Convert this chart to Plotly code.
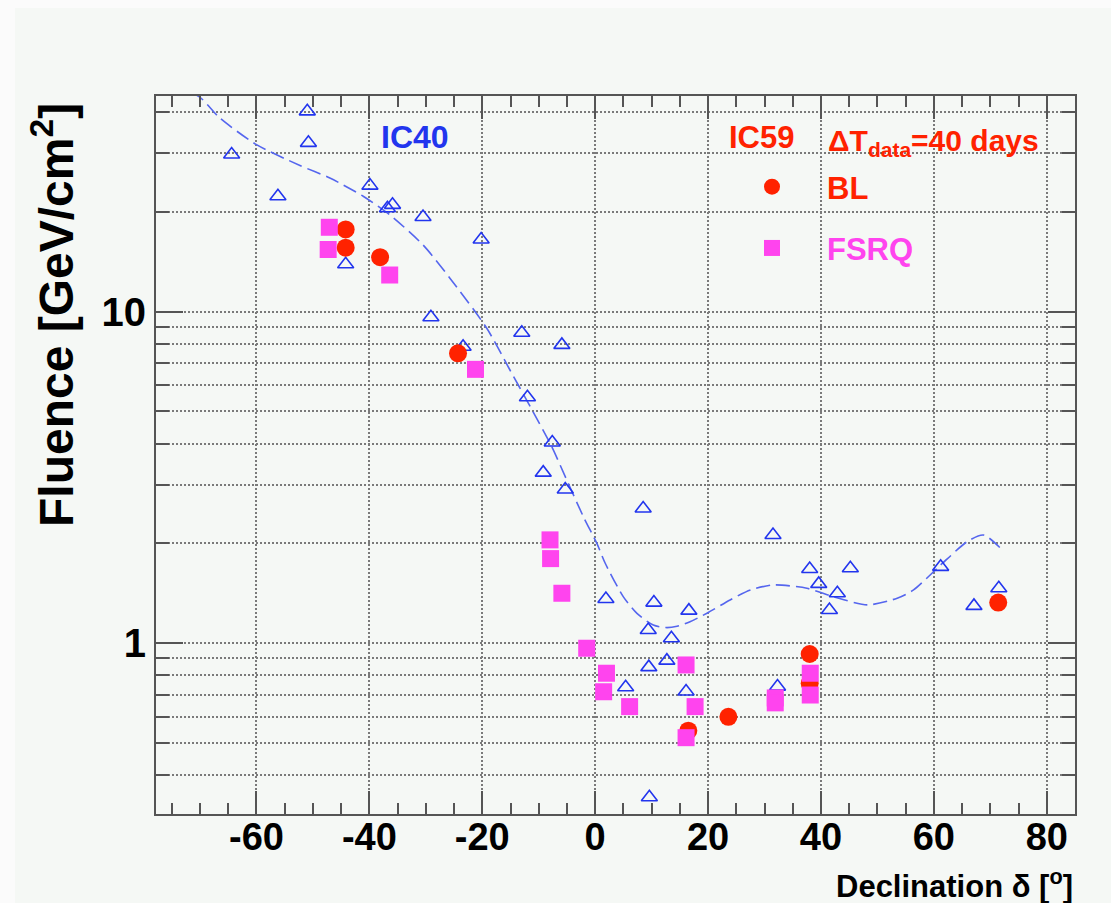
import plotly.graph_objects as go

# IC40 per-source fluence (open triangles)
ic40_dec = [-64.4, -56.2, -51.0, -50.8, -44.2, -39.9, -36.8, -35.9, -30.5, -29.1,
            -23.4, -20.2, -13.0, -12.0, -9.2, -7.6, -5.9, -5.3, 1.9, 5.4,
            8.5, 9.4, 9.5, 9.6, 10.4, 12.7, 13.5, 16.1, 16.6, 31.5,
            32.3, 38.0, 39.6, 41.5, 42.9, 45.2, 61.2, 67.1, 71.5]
ic40_flu = [29.8, 22.3, 40.2, 32.3, 13.9, 24.0, 20.5, 21.0, 19.3, 9.62,
            7.84, 16.5, 8.64, 5.52, 3.27, 4.03, 7.94, 2.91, 1.36, 0.737,
            2.55, 1.096, 0.847, 0.343, 1.326, 0.886, 1.035, 0.715, 1.254, 2.12,
            0.74, 1.675, 1.51, 1.26, 1.415, 1.683, 1.70, 1.296, 1.465]

# IC40 sensitivity curve
curve_dec = [-77.8, -74.0, -70.0, -66.5, -60.0, -52.3, -47.0, -41.1, -36.4, -30.5,
             -25.7, -19.2, -15.1, -11.5, -7.7, -5.3, -2.1, 0.3, 1.8, 5.0,
             7.4, 10.3, 12.5, 14.5, 16.8, 19.8, 23.9, 27.5, 31.6, 37.5,
             42.2, 48.2, 53.5, 56.4, 61.2, 65.9, 68.8, 72.4]
curve_flu = [52.0, 48.0, 44.3, 38.4, 31.9, 27.6, 25.3, 22.3, 19.6, 15.9,
             12.6, 8.91, 6.67, 5.17, 3.92, 3.18, 2.41, 2.00, 1.74, 1.38,
             1.23, 1.135, 1.115, 1.125, 1.161, 1.232, 1.351, 1.448, 1.499, 1.465,
             1.382, 1.305, 1.367, 1.448, 1.722, 2.025, 2.12, 1.89]

# IC59, 40 days: BL Lacs
bl_dec = [-44.2, -44.2, -38.1, -24.3, 16.5, 23.6, 38.0, 38.0, 71.4]
bl_flu = [17.7, 15.6, 14.6, 7.49, 0.545, 0.60, 0.928, 0.757, 1.326]

# IC59, 40 days: FSRQs
fsrq_dec = [-47.1, -47.3, -36.4, -21.2, -8.0, -7.9, -5.9, -1.5, 2.0, 1.5,
            6.1, 16.1, 17.7, 16.1, 31.9, 31.9, 38.1, 38.1]
fsrq_flu = [17.97, 15.4, 12.9, 6.70, 2.05, 1.80, 1.415, 0.966, 0.812, 0.714,
            0.644, 0.86, 0.644, 0.519, 0.684, 0.661, 0.812, 0.698]

x_ticks = [-60, -40, -20, 0, 20, 40, 60, 80]
x_ticktext = ["-60", "-40", "-20", "0", "20", "40", "60", "80"]
y_major = [1, 10]
y_minor = [0.4, 0.5, 0.6, 0.7, 0.8, 0.9, 2, 3, 4, 5, 6, 7, 8, 9, 20, 30, 40]

BLUE = "#2235ee"
CURVE = "#5566ee"
RED = "#ff2200"
MAGENTA = "#ff44ee"
BG = "#f5f8f5"
FRAME = "#555555"
GRID = "#7a7a7a"
SANS = "Liberation Sans, Arial, sans-serif"

fig = go.Figure()

fig.add_trace(go.Scatter(
    x=curve_dec, y=curve_flu, mode="lines",
    line=dict(color=CURVE, width=1.6, dash="14px,6px", shape="spline", smoothing=0.7),
    showlegend=False, hoverinfo="skip"))

fig.add_trace(go.Scatter(
    x=ic40_dec, y=ic40_flu, mode="markers",
    marker=dict(symbol="triangle-up-open", size=14, color=BLUE, line=dict(width=1.6, color=BLUE)),
    showlegend=False, name="IC40"))

fig.add_trace(go.Scatter(
    x=bl_dec, y=bl_flu, mode="markers",
    marker=dict(symbol="circle", size=18, color=RED),
    name='<span style="color:%s">BL</span>' % RED, legendgroup="bl"))

fig.add_trace(go.Scatter(
    x=fsrq_dec, y=fsrq_flu, mode="markers",
    marker=dict(symbol="square", size=17, color=MAGENTA),
    name='<span style="color:%s">FSRQ</span>' % MAGENTA, legendgroup="fsrq"))

W, H = 1111, 903
L, R, T, B = 156, 36, 96, 89
pw, ph = W - L - R, H - T - B


def px(xp):
    return (xp - L) / pw


def py(yp):
    return (H - B - yp) / ph


annotations = [
    dict(text="<b>IC40</b>", x=px(415), y=py(137), xref="paper", yref="paper",
         xanchor="center", yanchor="middle", showarrow=False,
         font=dict(family=SANS, size=32, color=BLUE)),
    dict(text="<b>IC59</b>", x=px(761), y=py(137), xref="paper", yref="paper",
         xanchor="center", yanchor="middle", showarrow=False,
         font=dict(family=SANS, size=31, color=RED)),
    dict(text="<b>ΔT<sub>data</sub>=40 days</b>", x=px(826), y=py(142), xref="paper", yref="paper",
         xanchor="left", yanchor="middle", showarrow=False,
         font=dict(family=SANS, size=30, color=RED)),
    dict(text="<b>Fluence [GeV/cm<sup>2</sup>]</b>", x=px(53), y=py(315), xref="paper", yref="paper",
         xanchor="center", yanchor="middle", textangle=-90, showarrow=False,
         font=dict(family=SANS, size=48, color="black")),
    dict(text="<b>Declination δ [<sup>o</sup>]</b>", x=1.0, y=py(884), xref="paper", yref="paper",
         xanchor="right", yanchor="middle", showarrow=False,
         font=dict(family=SANS, size=31, color="black")),
]

shapes = [
    dict(type="rect", xref="paper", yref="paper", x0=px(0), x1=px(15), y0=py(H), y1=py(0),
         fillcolor="#fbfbfb", line=dict(width=0), layer="below"),
    dict(type="rect", xref="paper", yref="paper", x0=px(0), x1=px(W), y0=py(8), y1=py(0),
         fillcolor="#fbfbfb", line=dict(width=0), layer="below"),
]

fig.update_layout(
    width=W, height=H,
    margin=dict(l=L, r=R, t=T, b=B),
    paper_bgcolor=BG, plot_bgcolor=BG,
    annotations=annotations, shapes=shapes,
    legend=dict(x=px(717), y=py(160), xanchor="left", yanchor="top",
                bgcolor="rgba(0,0,0,0)", itemwidth=100, tracegroupgap=18,
                font=dict(family=SANS, size=31, weight="bold")),
    xaxis=dict(
        range=[-77.8, 85], tickmode="array", tickvals=x_ticks, ticktext=x_ticktext,
        ticks="inside", ticklen=23, tickwidth=2, tickcolor=FRAME,
        showline=True, linecolor=FRAME, linewidth=2, mirror="ticks",
        showgrid=True, gridcolor=GRID, gridwidth=1.6, griddash="2px,2px",
        zeroline=False, ticklabelstandoff=-12,
        tickfont=dict(family=SANS, size=38, color="black", weight="bold"),
        minor=dict(dtick=5, tick0=0, ticks="inside", ticklen=11, tickwidth=2,
                   tickcolor=FRAME, showgrid=False),
    ),
    yaxis=dict(
        type="log", range=[-0.515, 1.6505], tickmode="array", tickvals=y_major,
        ticktext=["1", "10"],
        ticks="inside", ticklen=27, tickwidth=2, tickcolor=FRAME,
        showline=True, linecolor=FRAME, linewidth=2, mirror="ticks",
        showgrid=True, gridcolor=GRID, gridwidth=1.6, griddash="2px,2px",
        zeroline=False,
        tickfont=dict(family=SANS, size=40, color="black", weight="bold"),
        minor=dict(tickmode="array", tickvals=y_minor, ticks="inside", ticklen=13,
                   tickwidth=2, tickcolor=FRAME, showgrid=True, gridcolor=GRID,
                   gridwidth=1.6, griddash="2px,2px"),
    ),
)

fig.write_html("out.html")
